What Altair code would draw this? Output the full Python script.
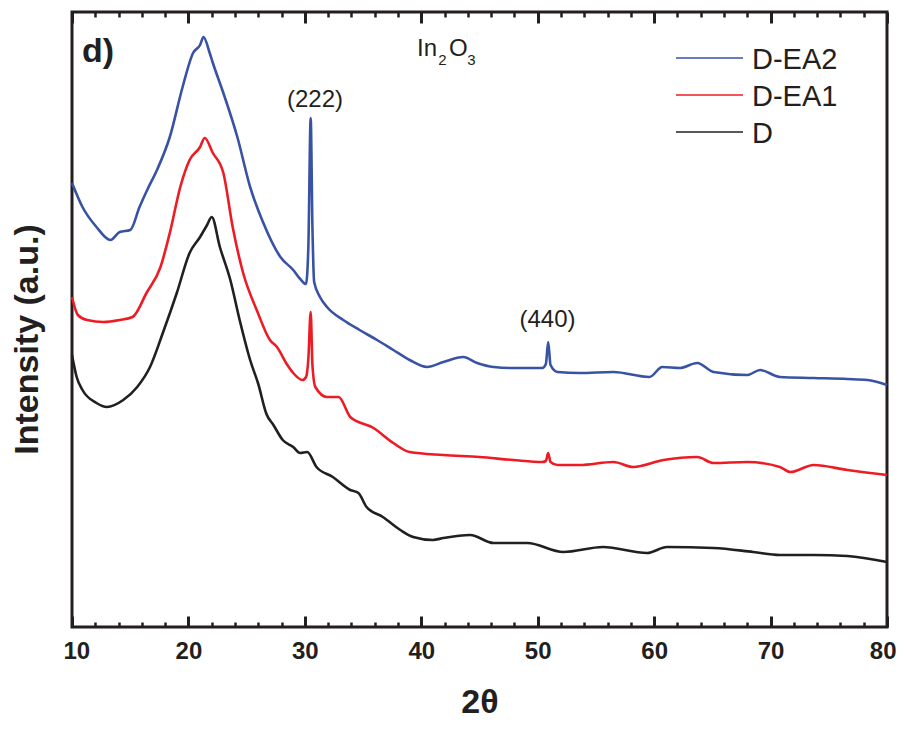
import altair as alt
import pandas as pd

# ---------------- data ----------------
series_names = ["D-EA2", "D-EA1", "D"]
series_colors = ["#3953a4", "#ed1c24", "#231f20"]

tt_ea2 = [10.0, 10.9, 12.1, 13.3, 14.1, 15.0, 15.8, 16.5, 17.3, 18.4, 19.5, 20.4, 21.0, 21.3,
          21.8, 22.1, 23.0, 24.2, 25.3, 26.4, 27.9, 29.0, 29.6, 30.1, 30.3, 30.5, 30.65, 30.8,
          31.3, 31.9, 33.3, 34.7, 36.2, 37.6, 39.0, 40.5, 41.9, 43.6, 44.8, 46.2, 47.9, 50.4,
          50.7, 50.9, 51.1, 51.7, 53.6, 56.5, 59.6, 60.7, 62.2, 63.7, 65.1, 68.0, 69.1, 70.8,
          73.7, 76.6, 78.3, 80.0]
int_ea2 = [444, 420, 400, 387, 395, 397, 420, 438, 457, 490, 540, 574, 582, 590,
           575, 564, 534, 490, 440, 405, 370, 357, 348, 343, 380, 509, 400, 345,
           330, 320, 307, 297, 287, 277, 267, 260, 265, 270, 264, 260, 259, 259,
           263, 285, 262, 255, 254, 255, 250, 260, 259, 264, 255, 252, 257, 250,
           249, 248, 247, 242]

tt_ea1 = [10.0, 10.5, 11.3, 12.7, 14.1, 15.2, 16.4, 17.6, 18.4, 19.3, 20.1, 21.0, 21.4, 22.1,
          23.0, 23.8, 24.7, 25.9, 27.0, 27.6, 28.5, 29.0, 29.8, 30.1, 30.3, 30.5, 30.65, 30.9,
          31.9, 32.9, 33.9, 35.9, 37.6, 39.0, 41.9, 45.0, 47.9, 50.4, 50.7, 50.9, 51.1, 51.7,
          53.6, 56.5, 58.2, 60.8, 63.7, 65.1, 68.0, 70.8, 71.7, 73.7, 76.6, 80.0]
int_ea1 = [330, 312, 307, 305, 307, 310, 334, 360, 394, 440, 467, 480, 489, 474,
           454, 400, 354, 316, 287, 280, 262, 254, 247, 250, 268, 315, 262, 240,
           230, 230, 210, 199, 184, 175, 172, 170, 167, 165, 166, 174, 165, 162,
           162, 165, 160, 167, 170, 164, 165, 160, 155, 162, 157, 152]

tt_d = [10.0, 10.4, 10.9, 12.1, 13.0, 14.4, 15.6, 16.7, 17.8, 19.0, 20.1, 21.0, 21.6, 22.0,
        22.7, 23.6, 24.4, 25.3, 26.0, 26.7, 27.3, 28.1, 29.0, 29.6, 30.2, 31.0, 32.4, 33.9,
        34.6, 35.3, 36.7, 38.2, 39.3, 41.0, 41.9, 44.2, 46.2, 49.1, 52.2, 55.6, 59.4, 61.1,
        65.1, 68.5, 70.8, 73.7, 76.6, 80.0]
int_d = [272, 250, 237, 224, 220, 227, 240, 260, 294, 334, 374, 390, 402, 410,
         380, 347, 307, 267, 243, 213, 202, 187, 180, 174, 175, 160, 150, 137,
         134, 120, 110, 97, 90, 87, 89, 92, 84, 84, 75, 80, 74, 80,
         79, 75, 72, 72, 71, 65]

major_ticks = [10, 20, 30, 40, 50, 60, 70, 80]
minor_ticks = [12, 14, 16, 18, 22, 24, 26, 28, 32, 34, 36, 38, 42, 44, 46, 48,
               52, 54, 56, 58, 62, 64, 66, 68, 72, 74, 76, 78]

# ---------------- tables ----------------
rows = []
for name, xs, ys in [("D-EA2", tt_ea2, int_ea2), ("D-EA1", tt_ea1, int_ea1), ("D", tt_d, int_d)]:
    for a, b in zip(xs, ys):
        rows.append({"two_theta": a, "intensity": b, "sample": name})
df = pd.DataFrame(rows)

W, H = 815, 615
FONT = "Liberation Sans"
INK = "#231f20"
x_scale = alt.Scale(domain=[10, 80], nice=False, zero=False)
y_scale = alt.Scale(domain=[0, 615], nice=False, zero=False)

# main bottom axis: axis line pulled 11px inside, so its ticks point inward
x_axis = alt.Axis(orient="bottom", values=major_ticks, title="2θ", format="d",
                  ticks=True, tickSize=11, tickWidth=3, tickColor=INK, offset=-11,
                  domain=False, grid=False, zindex=1,
                  labelFontSize=24, labelFontWeight="bold", labelColor=INK,
                  labelPadding=12, titleFontSize=34, titleFontWeight="bold",
                  titleColor=INK, titlePadding=22, labelFlush=True, labelFlushOffset=9,
                  labelFont=FONT, titleFont=FONT)
y_axis = alt.Axis(title="Intensity (a.u.)", labels=False, ticks=False, domain=False,
                  grid=False, titleFontSize=34, titleFontWeight="bold", titleColor=INK,
                  titleAngle=270, titleX=-45, titleY=327, titleAlign="center",
                  titleBaseline="middle", titleFont=FONT)

lines = alt.Chart(df).mark_line(strokeWidth=2.6, interpolate="monotone").encode(
    x=alt.X("two_theta:Q", scale=x_scale, axis=x_axis),
    y=alt.Y("intensity:Q", scale=y_scale, axis=y_axis),
    color=alt.Color("sample:N",
                    scale=alt.Scale(domain=series_names, range=series_colors),
                    legend=None),
    order=alt.Order("two_theta:Q"),
)

# extra tick-only axes (minor bottom, major/minor top), each pulled inside the frame
def tick_axis(values, orient, length, width):
    frame = pd.DataFrame({"t": values})
    ax = alt.Axis(orient=orient, values=values, title="", labels=False, ticks=True,
                  tickSize=length, tickWidth=width, tickColor=INK, offset=-length,
                  domain=False, grid=False, zindex=1)
    return alt.Chart(frame).mark_point(opacity=0).encode(
        x=alt.X("t:Q", scale=x_scale, axis=ax),
        y=alt.value(0))

tick_layers = [
    tick_axis(minor_ticks, "bottom", 5, 2.5),
    tick_axis(major_ticks, "top", 11, 3),
    tick_axis(minor_ticks, "top", 5, 2.5),
]

def label(text, x, y, size, weight="normal", align="left"):
    d = pd.DataFrame({"x": [x], "y": [y], "s": [text]})
    return alt.Chart(d).mark_text(fontSize=size, fontWeight=weight, align=align,
                                  baseline="alphabetic", color=INK, font=FONT).encode(
        x=alt.X("x:Q", scale=x_scale, axis=None),
        y=alt.Y("y:Q", scale=y_scale, axis=None),
        text="s:N")

labels = [
    label("d)", 10.86, 565, 34, "bold"),
    label("In", 39.63, 571, 24),
    label("2", 41.45, 562, 15),
    label("O", 42.38, 571, 24),
    label("3", 43.95, 562, 15),
    label("(222)", 30.87, 520, 24, align="center"),
    label("(440)", 50.84, 300, 24, align="center"),
]

# custom legend (one row per series)
legend_layers = []
for i, (name, col) in enumerate(zip(series_names, series_colors)):
    ly = 46 + 37 * i
    d = pd.DataFrame({"s": [name]})
    legend_layers.append(
        alt.Chart(d).mark_rule(strokeWidth=1.6, color=col).encode(
            x=alt.value(604), x2=alt.value(671), y=alt.value(ly)))
    legend_layers.append(
        alt.Chart(d).mark_text(fontSize=29, align="left", baseline="alphabetic",
                               color=INK, font=FONT).encode(
            x=alt.value(680), y=alt.value(ly + 11), text="s:N"))

chart = alt.layer(lines, *tick_layers, *labels, *legend_layers).resolve_axis(
    x="independent", y="independent"
).properties(
    width=W, height=H,
    autosize=alt.AutoSizeParams(type="none"),
    padding={"left": 64, "top": 4, "right": 10, "bottom": 94},
).configure(font=FONT).configure_view(stroke=INK, strokeWidth=3)

chart.save("out.html", embed_options={"renderer": "svg", "actions": False})
